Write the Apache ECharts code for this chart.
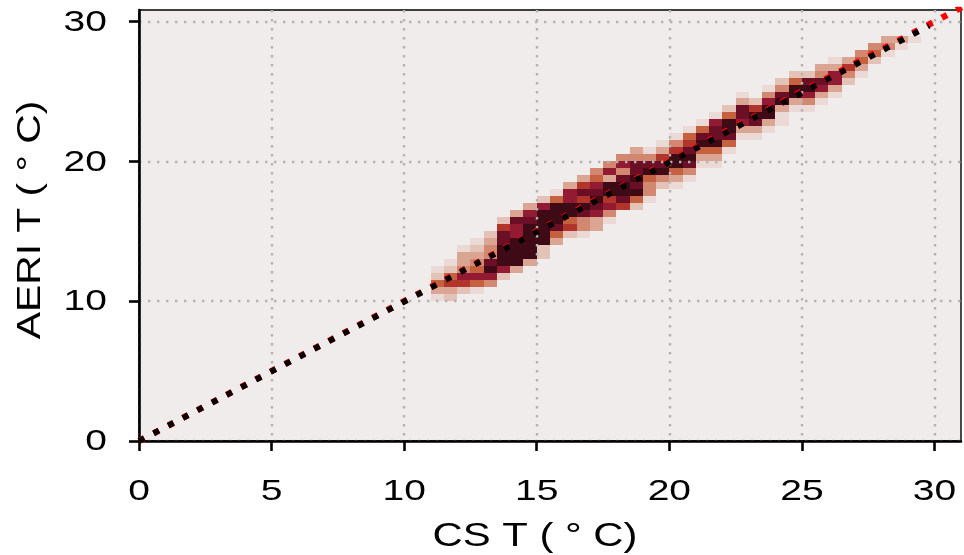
<!DOCTYPE html>
<html>
<head>
<meta charset="utf-8">
<script src="https://cdn.jsdelivr.net/npm/echarts@6/dist/echarts.min.js"></script>
<style>html,body{margin:0;padding:0;background:#fff}#c{width:964px;height:555px}</style>
</head>
<body>
<div id="c"></div>
<script>
// ---- data ----
const xTicks = [0, 5, 10, 15, 20, 25, 30];
const yTicks = [0, 10, 20, 30];
const xTitle = 'CS T ( \u00b0 C)';
const yTitle = 'AERI T ( \u00b0 C)';
// 2-D histogram: one column per 0.5 degC bin of CS T; counts (relative, 0-9) stacked upward in 0.5 degC bins of AERI T
const binXStart = [11, 11.5, 12, 12.5, 13, 13.5, 14, 14.5, 15, 15.5, 16, 16.5, 17, 17.5, 18, 18.5, 19, 19.5, 20, 20.5,
                   21, 21.5, 22, 22.5, 23, 23.5, 24, 24.5, 25, 25.5, 26, 26.5, 27, 27.5, 28, 28.5, 29];
const binYStart = [10, 10, 10.5, 10.5, 11, 11.5, 12, 12.5, 13, 14, 14.5, 14.5, 15, 15.5, 16.5, 16.5, 17, 18, 18, 18.5,
                   19.5, 19.5, 20.5, 21.5, 21.5, 22, 22.5, 23.5, 23.5, 24, 24.5, 25.5, 26, 27, 27.5, 28, 28.5];
const binCounts = [
  [1, 3, 5, 2, 1],
  [2, 3, 6, 5, 2, 1],
  [2, 6, 7, 4, 3, 3, 1],
  [1, 5, 7, 5, 4, 3, 2, 1],
  [4, 7, 9, 8, 4, 4, 3, 2],
  [2, 7, 9, 9, 9, 8, 8, 6, 2],
  [3, 9, 9, 9, 9, 7, 7, 8, 3],
  [3, 9, 9, 9, 9, 9, 8, 7, 3],
  [2, 2, 9, 9, 9, 9, 9, 7, 2],
  [3, 5, 8, 9, 9, 9, 5, 1],
  [2, 6, 5, 9, 9, 7, 7, 3],
  [1, 4, 4, 8, 9, 6, 8, 6, 3],
  [3, 3, 7, 8, 9, 8, 7, 5, 4],
  [1, 4, 7, 6, 9, 9, 3, 7, 4],
  [6, 8, 9, 9, 8, 4, 7, 4],
  [2, 5, 9, 8, 9, 8, 8, 4, 3],
  [1, 4, 4, 5, 9, 8, 4, 1],
  [2, 4, 9, 8, 6, 3, 1],
  [1, 3, 5, 9, 9, 6, 4, 1],
  [1, 4, 8, 9, 8, 6, 5, 1],
  [1, 3, 5, 9, 8, 5, 1],
  [1, 3, 5, 9, 8, 8, 7, 1],
  [1, 5, 8, 9, 9, 5, 2],
  [1, 3, 7, 8, 8, 3, 1],
  [1, 3, 8, 9, 6, 2],
  [1, 3, 9, 9, 7, 4, 1],
  [1, 1, 3, 9, 8, 4, 2],
  [1, 3, 9, 9, 5, 2],
  [1, 4, 7, 9, 8, 2],
  [1, 3, 7, 8, 4, 3],
  [1, 3, 7, 7, 3, 1],
  [2, 4, 6, 3],
  [1, 3, 5, 4],
  [2, 5, 4],
  [1, 4, 3],
  [1, 3],
  [1]
];
const binWidth = 0.5;
// reference lines
const oneToOneLine = [[0, 0], [31.2, 31.2]];
const fitLine = [[0, 0], [29.8, 29.7]];
const countColors = ['#f1ecec', '#ead9d5', '#e3c2b8', '#dba594', '#d18770', '#c5613f', '#b2352c', '#921a33', '#6a0f26', '#3e0a15'];

const heatData = [];
binXStart.forEach((x, i) => {
  binCounts[i].forEach((v, j) => heatData.push([x, binYStart[i] + binWidth * j, v]));
});

const chart = echarts.init(document.getElementById('c'), null, {renderer: 'canvas'});
const gridDash = {color: '#b3b3b3', width: 2.4, type: [2.4, 6.6]};
chart.setOption({
  animation: false,
  backgroundColor: '#ffffff',
  grid: {left: 139, top: 10, right: 3, bottom: 114, show: true, backgroundColor: '#f1ecec', borderColor: '#000', borderWidth: 1.4},
  xAxis: {
    type: 'value', min: 0, max: 31, interval: 5, z: 3,
    axisLine: {lineStyle: {color: '#000', width: 2.6}},
    axisTick: {length: 10, lineStyle: {color: '#000', width: 2.6}, customValues: xTicks},
    axisLabel: {show: false},
    splitLine: {show: true, lineStyle: gridDash}
  },
  yAxis: {
    type: 'value', min: 0, max: 30.83, interval: 10, z: 3,
    axisLine: {lineStyle: {color: '#000', width: 2.6}},
    axisTick: {length: 10, lineStyle: {color: '#000', width: 2.6}, customValues: yTicks},
    axisLabel: {show: false},
    splitLine: {show: true, lineStyle: gridDash}
  },
  visualMap: {
    show: false, type: 'continuous', min: 0, max: 9, dimension: 2, seriesIndex: 0,
    inRange: {color: countColors}
  },
  series: [
    {
      type: 'custom', z: 1, data: heatData, encode: {x: 0, y: 1},
      renderItem: function (params, api) {
        const x = api.value(0), y = api.value(1);
        const p0 = api.coord([x, y]);
        const p1 = api.coord([x + binWidth, y + binWidth]);
        const l = Math.round(p0[0]), r = Math.round(p1[0]);
        const b = Math.round(p0[1]), t = Math.round(p1[1]);
        return {type: 'rect', shape: {x: l, y: t, width: r - l, height: b - t}, style: {fill: api.visual('color')}};
      }
    },
    {
      type: 'line', z: 6, data: oneToOneLine, symbol: 'none', clip: true,
      lineStyle: {color: '#ff0000', width: 6.4, type: [6, 10.5], cap: 'butt'}
    },
    {
      type: 'line', z: 7, data: fitLine, symbol: 'none', clip: true,
      lineStyle: {color: '#000000', width: 5.8, type: [6, 10.5], cap: 'butt'}
    }
  ]
});

// tick labels and titles as text placed through the axis scales
const graphics = [];
const fam = '"Liberation Sans", Arial, Helvetica, sans-serif';
xTicks.forEach(v => {
  const p = chart.convertToPixel({gridIndex: 0}, [v, 0]);
  graphics.push({type: 'text', x: p[0], y: p[1] + 51, scaleX: 1.3, z: 10,
    style: {text: String(v), fontSize: 30, fontFamily: fam, fill: '#000', align: 'center', verticalAlign: 'middle'}});
});
yTicks.forEach(v => {
  const p = chart.convertToPixel({gridIndex: 0}, [0, v]);
  graphics.push({type: 'text', x: p[0] - 32, y: p[1] + 1, scaleX: 1.3, z: 10,
    style: {text: String(v), fontSize: 30, fontFamily: fam, fill: '#000', align: 'right', verticalAlign: 'middle'}});
});
graphics.push({type: 'text', x: 535, y: 537, scaleX: 1.23, z: 10,
  style: {text: xTitle, fontSize: 34, fontFamily: fam, fill: '#000', align: 'center', verticalAlign: 'middle'}});
graphics.push({type: 'text', x: 31, y: 220, rotation: Math.PI / 2, scaleX: 1.2, z: 10,
  style: {text: yTitle, fontSize: 34, fontFamily: fam, fill: '#000', align: 'center', verticalAlign: 'middle'}});
chart.setOption({graphic: graphics});
</script>
</body>
</html>
